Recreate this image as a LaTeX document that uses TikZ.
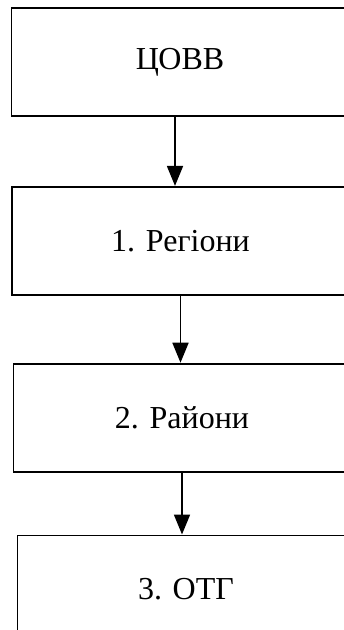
\documentclass[tikz,border=0pt]{standalone}
\usepackage{fontspec}
\setmainfont{Liberation Serif}
\usetikzlibrary{positioning,arrows.meta}

\begin{document}
\begin{tikzpicture}[x=1pt,y=1pt,line width=1.8pt,
    level/.style={draw,minimum width=337,minimum height=108,
      inner sep=0,font=\fontsize{32}{38}\selectfont},
    flow/.style={-{Triangle[width=16,length=20]}}]
    \clip (0,0) rectangle (344,-630);
    \fill[white] (0,0) rectangle (344,-630);

    \node[level] (centre) at (180,-62) {ЦОВВ};
    \node[level] (regions) [below=69 of centre,xshift=0.5]{
      1. Регіони};
    \node[level] (districts) [below=67 of regions,xshift=1.5]{
      2. Райони};
    \node[level] (otg) [below=62 of districts,xshift=4]{
      3. ОТГ};

    \draw[flow] ([xshift=-5]centre.south)--([xshift=-5]centre.south |- regions.north);
    \draw[flow] (regions.south)--(regions.south |- districts.north);
    \draw[flow] (districts.south)--(districts.south |- otg.north);
  \end{tikzpicture}
\end{document}
